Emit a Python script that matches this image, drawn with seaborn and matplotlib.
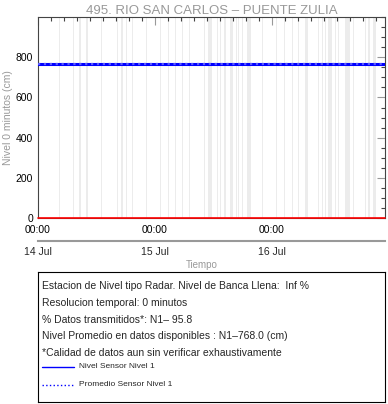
import pandas as pd
import numpy as np
import matplotlib
matplotlib.use("Agg")
import matplotlib.pyplot as plt
import matplotlib.dates as mdates
from matplotlib.ticker import MultipleLocator
import seaborn as sns

sns.set_style("white")
plt.rcParams["font.family"] = ["Liberation Sans", "DejaVu Sans"]

titulo = "495. RIO SAN CARLOS \u2013 PUENTE ZULIA"
inicio = pd.Timestamp("2024-07-14 00:00")

# horas desde el inicio y nivel (cm)
horas = [0, 6, 12, 18, 24, 30, 36, 42, 48, 54, 60, 66, 71.2]
nivel = [768, 768, 768, 768, 768, 768, 768, 768, 768, 768, 768, 768, 768]
promedio = 768.0

# huecos de datos: inicio (h) y duracion (h)
gap_ini = [4.25, 7.24, 8.47, 9.9, 12.92, 16.2, 17.0, 18.05, 19.2, 22.15,
           25.0, 26.6, 28.1, 29.5, 31.0, 34.1, 34.8, 36.65, 37.3, 38.15,
           39.4, 40.6, 41.0, 41.8, 42.8, 44.85, 45.9,
           48.95, 50.5, 52.05, 53.4, 54.8, 57.5, 58.2, 58.9, 59.55, 60.9,
           61.6, 63.0, 64.6, 66.4, 67.1, 67.7, 68.75]
gap_dur = [0.25, 0.2, 0.3, 0.4, 0.25, 0.2, 0.4, 0.2, 0.2, 0.2,
           0.2, 0.2, 0.2, 0.2, 0.2, 0.2, 1.0, 0.2, 0.2, 0.4,
           0.6, 0.2, 0.2, 0.2, 1.0, 0.2, 0.2,
           0.2, 0.2, 0.2, 0.2, 0.6, 0.2, 0.2, 0.2, 0.7, 0.2,
           0.2, 1.0, 0.2, 0.2, 0.2, 0.4, 0.7]

texto = ["Estacion de Nivel tipo Radar. Nivel de Banca Llena:  Inf %",
         "Resolucion temporal: 0 minutos",
         "% Datos transmitidos*: N1\u2013 95.8",
         "Nivel Promedio en datos disponibles : N1\u2013768.0 (cm)",
         "*Calidad de datos aun sin verificar exhaustivamente"]
etiquetas = ["Nivel Sensor Nivel 1", "Promedio Sensor Nivel 1"]

df = pd.DataFrame({"t": [inicio + pd.Timedelta(hours=h) for h in horas], "nivel": nivel})
fin = inicio + pd.Timedelta(hours=71.2)

gris = "#999999"
fig = plt.figure(figsize=(3.88, 4.04), dpi=100)
ax = fig.add_axes([0.098, 0.460, 0.894, 0.498])

for g0, gd in zip(gap_ini, gap_dur):
    a = inicio + pd.Timedelta(hours=g0)
    b = a + pd.Timedelta(hours=gd)
    ax.axvspan(a, b, color="#ececec", lw=0, zorder=0)

sns.lineplot(data=df, x="t", y="nivel", color="blue", lw=2.2, ax=ax, zorder=3)
ax.plot([inicio, fin], [promedio, promedio], color="#5a5aff", ls=":", lw=1.6, zorder=4)
ax.plot([inicio, fin], [0, 0], color="red", lw=1.2, zorder=4, clip_on=False)

ax.set_xlim(inicio, fin)
ax.set_ylim(0, 1000)
ax.yaxis.set_major_locator(MultipleLocator(200))
ax.yaxis.set_minor_locator(MultipleLocator(50))
ax.set_yticks([0, 200, 400, 600, 800])
ax.xaxis.set_major_locator(mdates.DayLocator())
ax.xaxis.set_minor_locator(MultipleLocator(1 / 9))
ax.xaxis.set_major_formatter(mdates.DateFormatter("%H:%M"))
ax.tick_params(axis="both", which="both", direction="in", top=True, right=True,
               colors="#444444", labelcolor="black", labelsize=7.5, width=0.8)
ax.tick_params(axis="both", which="major", length=6, color=gris)
ax.tick_params(axis="both", which="minor", length=3)
ax.tick_params(axis="x", pad=5)
for s in ax.spines.values():
    s.set_color("#444444")
    s.set_linewidth(0.8)
ax.set_xlabel("")
ax.set_ylabel("Nivel 0 minutos (cm)", color=gris, fontsize=7.5, labelpad=2)
ax.set_title(titulo, color=gris, fontsize=9.5, pad=2)

# eje de fechas
ax2 = fig.add_axes([0.098, 0.403, 0.894, 0.0001])
ax2.set_xlim(inicio, fin)
ax2.set_yticks([])
for k in ["top", "left", "right"]:
    ax2.spines[k].set_visible(False)
ax2.spines["bottom"].set_color(gris)
ax2.spines["bottom"].set_linewidth(1.5)
ax2.xaxis.set_major_locator(mdates.DayLocator())
ax2.xaxis.set_major_formatter(mdates.DateFormatter("%d %b"))
ax2.tick_params(axis="x", direction="in", length=4, color=gris, width=1,
                labelsize=7.5, pad=4)
fig.text(0.52, 0.343, "Tiempo", color=gris, fontsize=7, ha="center", va="center")

# cuadro de leyenda
ax3 = fig.add_axes([0.098, 0.005, 0.894, 0.322])
ax3.set_xticks([])
ax3.set_yticks([])
for s in ax3.spines.values():
    s.set_color("black")
    s.set_linewidth(0.8)
ax3.set_xlim(0, 347)
ax3.set_ylim(130, 0)
for i, t in enumerate(texto):
    ax3.text(4, 14 + i * 16.8, t, fontsize=7.5, va="center", ha="left")
ax3.plot([4, 36], [95, 95], color="blue", lw=1)
ax3.plot([4, 36], [113, 113], color="blue", lw=1, ls=":")
ax3.text(41, 95, etiquetas[0], fontsize=6, va="center")
ax3.text(41, 113, etiquetas[1], fontsize=6, va="center")

fig.savefig("out.png", dpi=100)
